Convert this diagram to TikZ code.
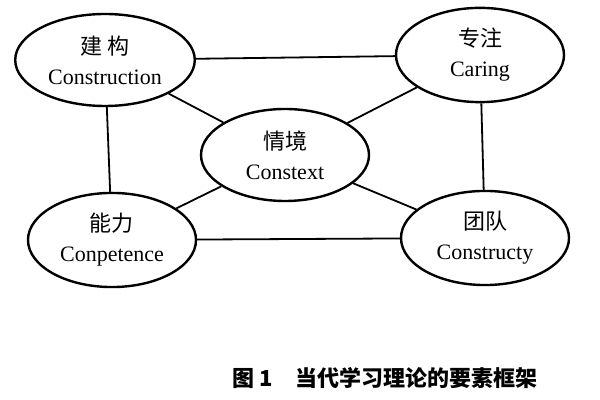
\documentclass[tikz,border=0pt]{standalone}
\usepackage{fontspec}
\setmainfont{Liberation Serif}
\newfontfamily\cjk{Noto Sans CJK SC}
\usetikzlibrary{shapes.geometric}

\begin{document}
\begin{tikzpicture}[x=0.5pt,y=-0.5pt,
        elem/.style={draw, ellipse, line width=1.2pt, minimum width=84pt, minimum height=46pt,
            align=center, font=\fontsize{11}{15}\selectfont},
        link/.style={line width=0.9pt}]
        \useasboundingbox (0,0) rectangle (600,400);
        \node[elem] (construction) at (105,60) {{\cjk 建\ 构}\\Construction};
        \node[elem] (caring) at (480,55) {{\cjk 专注}\\Caring};
        \node[elem] (context) at (285,155) {{\cjk 情境}\\Constext};
        \node[elem] (competence) at (112,240) {{\cjk 能力}\\Conpetence};
        \node[elem] (community) at (485,238) {{\cjk 团队}\\Constructy};
        \draw[link] (construction) -- (caring);
        \draw[link] (construction) -- (competence);
        \draw[link] (caring) -- (community);
        \draw[link] (competence) -- (community);
        \draw[link] (construction) -- (context);
        \draw[link] (caring) -- (context);
        \draw[link] (context) -- (competence);
        \draw[link] (context) -- (community);
        \node[font=\cjk\bfseries\fontsize{11}{13}\selectfont] (caption) at (385,378)
            {图\ 1\quad 当代学习理论的要素框架};
    \end{tikzpicture}
\end{document}
